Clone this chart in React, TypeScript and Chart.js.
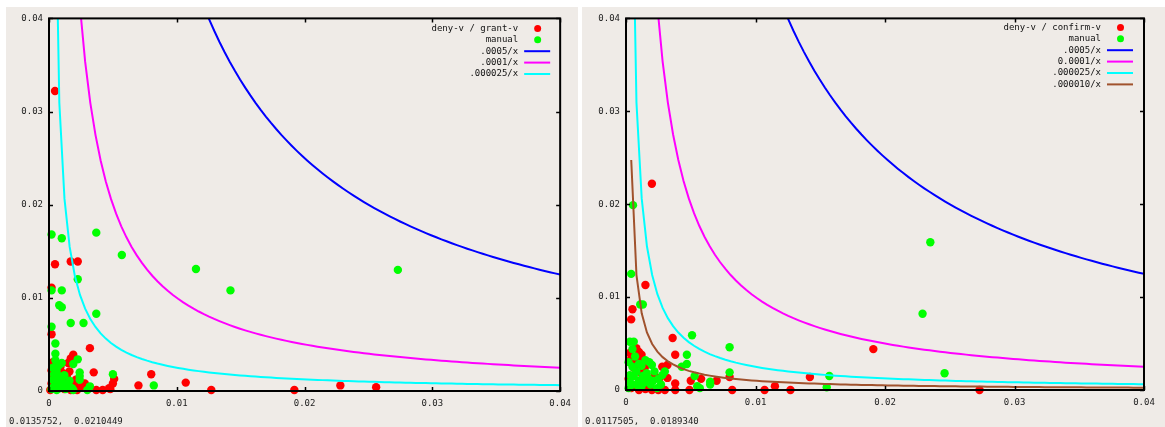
import React, { useEffect, useRef } from 'react';
import { Chart, registerables } from 'chart.js';

Chart.register(...registerables);

// ---- data ----
const xTicks = [0, 0.01, 0.02, 0.03, 0.04];
const yTicks = [0, 0.01, 0.02, 0.03, 0.04];
const xMax = 0.04;
const sampleCount = 100; // gnuplot default samples

const grantDeny: [number, number][] = [
  [0.00047, 0.0322], [0.00047, 0.0136], [0.0017, 0.0139], [0.00225, 0.0139],
  [0.0002, 0.0111], [0.0002, 0.0061], [0.0032, 0.0046], [0.0019, 0.0039],
  [0.0017, 0.0035], [0.0003, 0.0031], [0.0015, 0.0030], [0.0016, 0.0021],
  [0.0035, 0.0020], [0.0011, 0.0019], [0.0002, 0.0022], [0.0004, 0.0015],
  [0.0002, 0.0008], [0.0008, 0.0011], [0.0013, 0.0012], [0.0020, 0.0008],
  [0.0028, 0.0008], [0.0022, 0.0001], [0.0017, 0.0001], [0.0037, 0.0001],
  [0.0042, 0.0001], [0.0047, 0.0003], [0.0050, 0.0008], [0.0051, 0.0013],
  [0.0048, 0.0002], [0.0070, 0.0006], [0.0080, 0.0018], [0.0107, 0.0009],
  [0.0127, 0.0001], [0.0192, 0.0001], [0.0228, 0.0006], [0.0256, 0.0004],
  [0.0001, 0.0001], [0.0006, 0.0004], [0.0012, 0.0002], [0.0025, 0.0004],
  [0.0009, 0.0026], [0.0005, 0.0023], [0.0014, 0.0016], [0.0021, 0.0012],
];

const grantManual: [number, number][] = [
  [0.0002, 0.0168], [0.0010, 0.0164], [0.0037, 0.0170], [0.0057, 0.0146],
  [0.00225, 0.0120], [0.0002, 0.0108], [0.0010, 0.0108], [0.0008, 0.0092],
  [0.0010, 0.0090], [0.0017, 0.0073], [0.0027, 0.0073], [0.0037, 0.0083],
  [0.0002, 0.0069], [0.0005, 0.0051], [0.0005, 0.0040], [0.00225, 0.0034],
  [0.0019, 0.0029], [0.0010, 0.0030], [0.0024, 0.0020], [0.0024, 0.0016],
  [0.0050, 0.0018], [0.0082, 0.0006], [0.0115, 0.0131], [0.0142, 0.0108],
  [0.0273, 0.0130], [0.0024, 0.0012], [0.0032, 0.0005], [0.0030, 0.0001],
  [0.0003, 0.0025], [0.0006, 0.0022], [0.0004, 0.0018], [0.0008, 0.0016],
  [0.0012, 0.0017], [0.0003, 0.0012], [0.0007, 0.0010], [0.0011, 0.0008],
  [0.0015, 0.0006], [0.0004, 0.0005], [0.0008, 0.0003], [0.0013, 0.0002],
  [0.0018, 0.0003], [0.0002, 0.0002], [0.0006, 0.0001], [0.0010, 0.0013],
  [0.0016, 0.0011], [0.0019, 0.0001], [0.0005, 0.0033], [0.0008, 0.0028],
];

const confirmDeny: [number, number][] = [
  [0.0020, 0.0222], [0.0015, 0.0113], [0.0005, 0.0087], [0.0004, 0.0076],
  [0.0036, 0.0056], [0.0038, 0.0038], [0.0008, 0.0045], [0.0010, 0.0041],
  [0.0012, 0.0038], [0.0004, 0.0034], [0.0010, 0.0034], [0.0016, 0.0027],
  [0.0028, 0.0025], [0.0032, 0.0027], [0.0026, 0.0013], [0.0032, 0.0013],
  [0.0038, 0.0007], [0.0038, 0.0000], [0.0049, 0.0000], [0.0050, 0.0010],
  [0.0058, 0.0012], [0.0070, 0.0010], [0.0080, 0.0014], [0.0082, 0.0000],
  [0.0107, 0.0000], [0.0115, 0.0004], [0.0127, 0.0000], [0.0142, 0.0014],
  [0.0191, 0.0044], [0.0273, 0.0000], [0.0004, 0.0002], [0.0010, 0.0000],
  [0.0015, 0.0001], [0.0020, 0.0000], [0.0025, 0.0000], [0.0030, 0.0000],
  [0.0012, 0.0018], [0.0006, 0.0024], [0.0018, 0.0008], [0.0022, 0.0015],
  [0.0002, 0.0012], [0.0008, 0.0030], [0.0014, 0.0022], [0.0003, 0.0040],
];

const confirmManual: [number, number][] = [
  [0.00054, 0.0199], [0.0004, 0.0125], [0.0011, 0.0092], [0.0013, 0.0092],
  [0.0051, 0.0059], [0.0080, 0.0046], [0.0080, 0.0019], [0.0047, 0.0038],
  [0.0047, 0.0028], [0.0043, 0.0025], [0.0053, 0.0015], [0.0055, 0.0004],
  [0.0057, 0.0002], [0.0065, 0.0009], [0.0065, 0.0006], [0.0157, 0.0015],
  [0.0155, 0.0003], [0.0235, 0.0159], [0.0229, 0.0082], [0.0246, 0.0018],
  [0.0003, 0.0052], [0.0006, 0.0052], [0.0005, 0.0044], [0.0002, 0.0030],
  [0.0005, 0.0025], [0.0010, 0.0028], [0.0015, 0.0032], [0.0018, 0.0030],
  [0.0020, 0.0027], [0.0022, 0.0020], [0.0006, 0.0015], [0.0010, 0.0010],
  [0.0003, 0.0008], [0.0012, 0.0004], [0.0002, 0.0002], [0.0016, 0.0018],
  [0.0025, 0.0012], [0.0008, 0.0020], [0.0014, 0.0008], [0.0003, 0.0016],
  [0.0019, 0.0006], [0.0024, 0.0002], [0.0028, 0.0016], [0.0030, 0.0020],
  [0.0007, 0.0036], [0.0012, 0.0026], [0.0009, 0.0005], [0.0017, 0.0013],
  [0.0021, 0.0010], [0.0005, 0.0006], [0.0013, 0.0015], [0.0027, 0.0006],
];

// curve constants: y = k / x (as the legend says)
const grantCurveK = [0.0005, 0.0001, 0.000025];
const grantCurveLabels = ['.0005/x', '.0001/x', '.000025/x'];
const confirmCurveK = [0.0005, 0.0001, 0.000025, 0.00001];
const confirmCurveLabels = ['.0005/x', '0.0001/x', '.000025/x', '.000010/x'];
const curveColors = ['#0000ff', '#ff00ff', '#00ffff', '#a0522d'];

const RED = '#ff0000';
const GREEN = '#00ff00';
const BG = '#efebe7';
const FONT = '"DejaVu Sans Mono", monospace';

function curvePoints(k: number) {
  const pts: { x: number; y: number }[] = [];
  for (let i = 1; i < sampleCount; i++) {
    const x = (i * xMax) / (sampleCount - 1);
    pts.push({ x, y: k / x });
  }
  return pts;
}

const fmt = (v: number) => (v === 0 ? '0' : Number(v).toFixed(2));

type PanelProps = {
  left: number;
  width: number;
  plotLeft: number;
  plotRight: number;
  plotTop: number;
  plotBottom: number;
  deny: [number, number][];
  manual: [number, number][];
  denyLabel: string;
  curveK: number[];
  curveLabels: string[];
  coord: string;
  legendTextRight: number;
  legendFirstRow: number;
};

const PANEL_TOP = 7;
const PANEL_H = 427 - PANEL_TOP;

function Panel(p: PanelProps) {
  const ref = useRef<HTMLCanvasElement | null>(null);
  useEffect(() => {
    if (!ref.current) return;
    const legendItems: { label: string; kind: 'point' | 'line'; color: string }[] = [
      { label: p.denyLabel, kind: 'point', color: RED },
      { label: 'manual', kind: 'point', color: GREEN },
      ...p.curveLabels.map((l, i) => ({ label: l, kind: 'line' as const, color: curveColors[i] })),
    ];
    const framePlugin = {
      id: 'gnuframe',
      afterDraw(chart: any) {
        const ctx = chart.ctx;
        const a = chart.chartArea;
        const xs = chart.scales.x;
        const ys = chart.scales.y;
        ctx.save();
        // legend
        ctx.font = `9px ${FONT}`;
        ctx.textAlign = 'right';
        ctx.textBaseline = 'middle';
        legendItems.forEach((it, i) => {
          const y = a.top + p.legendFirstRow + i * 11.4;
          ctx.fillStyle = '#111';
          ctx.fillText(it.label, a.right - p.legendTextRight, y);
          if (it.kind === 'point') {
            ctx.fillStyle = it.color;
            ctx.beginPath();
            ctx.arc(a.right - p.legendTextRight + 19.5, y, 3.5, 0, Math.PI * 2);
            ctx.fill();
          } else {
            ctx.strokeStyle = it.color;
            ctx.lineWidth = 2;
            ctx.beginPath();
            ctx.moveTo(a.right - p.legendTextRight + 6, y);
            ctx.lineTo(a.right - p.legendTextRight + 32, y);
            ctx.stroke();
          }
        });
        // inward ticks
        ctx.strokeStyle = '#000';
        ctx.lineWidth = 1.5;
        ctx.beginPath();
        xTicks.forEach((v) => {
          const x = Math.round(xs.getPixelForValue(v)) + 0.5;
          ctx.moveTo(x, a.bottom);
          ctx.lineTo(x, a.bottom - 4);
          ctx.moveTo(x, a.top);
          ctx.lineTo(x, a.top + 4);
        });
        yTicks.forEach((v) => {
          const y = Math.round(ys.getPixelForValue(v)) + 0.5;
          ctx.moveTo(a.left, y);
          ctx.lineTo(a.left + 4, y);
          ctx.moveTo(a.right, y);
          ctx.lineTo(a.right - 4, y);
        });
        ctx.stroke();
        // frame
        ctx.lineWidth = 2;
        ctx.strokeRect(a.left, a.top, a.right - a.left, a.bottom - a.top);
        ctx.restore();
      },
    };
    const n = p.curveK.length;
    const chart = new Chart(ref.current, {
      type: 'scatter',
      data: {
        datasets: [
          {
            label: p.denyLabel,
            data: p.deny.map(([x, y]) => ({ x, y })),
            backgroundColor: RED,
            borderColor: RED,
            borderWidth: 0,
            pointRadius: 4.2,
            pointHoverRadius: 4.2,
            clip: false,
            order: 20,
          } as any,
          {
            label: 'manual',
            data: p.manual.map(([x, y]) => ({ x, y })),
            backgroundColor: GREEN,
            borderColor: GREEN,
            borderWidth: 0,
            pointRadius: 4.2,
            pointHoverRadius: 4.2,
            clip: false,
            order: 19,
          } as any,
          ...p.curveK.map((k, i) => ({
            type: 'line',
            label: p.curveLabels[i],
            data: curvePoints(k),
            borderColor: curveColors[i],
            backgroundColor: curveColors[i],
            borderWidth: 2,
            pointRadius: 0,
            showLine: true,
            fill: false,
            tension: 0,
            order: n - i,
          })) as any,
        ],
      },
      options: {
        animation: false,
        responsive: false,
        maintainAspectRatio: false,
        events: [],
        layout: {
          padding: {
            left: 0,
            right: p.width - p.plotRight,
            top: p.plotTop - PANEL_TOP,
            bottom: 0,
          },
        },
        plugins: { legend: { display: false }, tooltip: { enabled: false }, title: { display: false } },
        scales: {
          x: {
            type: 'linear',
            min: 0,
            max: xMax,
            afterBuildTicks: (s: any) => {
              s.ticks = xTicks.map((v) => ({ value: v }));
            },
            afterFit: (s: any) => {
              s.height = PANEL_H - (p.plotBottom - PANEL_TOP);
            },
            grid: { display: false, drawTicks: false, tickLength: 0 },
            border: { display: false },
            ticks: {
              font: { family: FONT, size: 9 },
              color: '#222',
              padding: 7,
              maxRotation: 0,
              autoSkip: false,
              callback: (v: any) => fmt(Number(v)),
            },
          },
          y: {
            type: 'linear',
            min: 0,
            max: 0.04,
            afterBuildTicks: (s: any) => {
              s.ticks = yTicks.map((v) => ({ value: v }));
            },
            afterFit: (s: any) => {
              s.width = p.plotLeft;
            },
            grid: { display: false, drawTicks: false, tickLength: 0 },
            border: { display: false },
            ticks: {
              font: { family: FONT, size: 9 },
              color: '#222',
              padding: 6,
              autoSkip: false,
              callback: (v: any) => fmt(Number(v)),
            },
          },
        },
      } as any,
      plugins: [framePlugin],
    });
    return () => chart.destroy();
  }, []);
  return (
    <div
      style={{
        position: 'absolute',
        left: p.left,
        top: PANEL_TOP,
        width: p.width,
        height: PANEL_H,
        background: BG,
      }}
    >
      <canvas ref={ref} width={p.width} height={PANEL_H} style={{ display: 'block', width: p.width, height: PANEL_H }} />
      <div
        style={{
          position: 'absolute',
          left: 3,
          top: PANEL_H - 11,
          font: `9px ${FONT}`,
          color: '#222',
          whiteSpace: 'pre',
          lineHeight: '10px',
        }}
      >
        {p.coord}
      </div>
    </div>
  );
}

export default function App() {
  return (
    <div style={{ position: 'fixed', left: 0, top: 0, width: 1165, height: 427, background: '#fff', overflow: 'hidden' }}>
      <Panel
        left={6}
        width={572}
        plotLeft={43}
        plotRight={558}
        plotTop={13}
        plotBottom={391}
        deny={grantDeny}
        manual={grantManual}
        denyLabel="deny-v / grant-v"
        curveK={grantCurveK}
        curveLabels={grantCurveLabels}
        coord={'0.0135752,  0.0210449'}
        legendTextRight={42}
        legendFirstRow={10}
      />
      <Panel
        left={582}
        width={583}
        plotLeft={44}
        plotRight={562}
        plotTop={13}
        plotBottom={390}
        deny={confirmDeny}
        manual={confirmManual}
        denyLabel="deny-v / confirm-v"
        curveK={confirmCurveK}
        curveLabels={confirmCurveLabels}
        coord={'0.0117505,  0.0189340'}
        legendTextRight={43}
        legendFirstRow={9}
      />
    </div>
  );
}
